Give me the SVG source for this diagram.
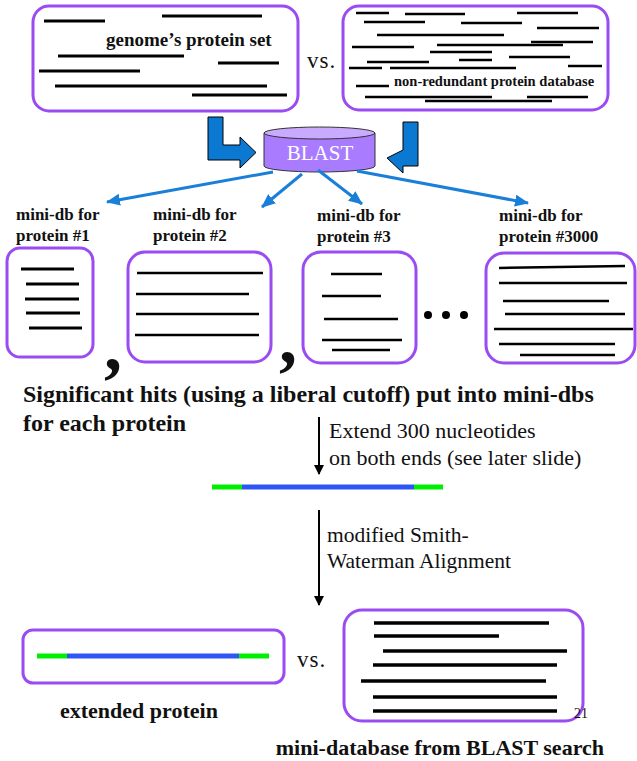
<svg xmlns="http://www.w3.org/2000/svg" width="637" height="761" viewBox="0 0 637 761" font-family="Liberation Serif, Times New Roman, serif">
<style>
.box{fill:#fff;stroke:#9a4cf2;stroke-width:3}
.ln{stroke:#000;stroke-width:3}
.ln2{stroke:#000;stroke-width:2.5}
.ln3{stroke:#000;stroke-width:3.5}
.bt{font-weight:bold;fill:#111}
.rt{fill:#111}
.fan{stroke:#1a7fd8;stroke-width:3;fill:none}
.blk{fill:#0b78d1;stroke:#000;stroke-width:1}
.dn{stroke:#000;stroke-width:2;fill:none}
</style>
<defs>
<marker id="ah" markerUnits="userSpaceOnUse" markerWidth="14" markerHeight="12" refX="13" refY="6" orient="auto">
<path d="M0,0 L14,6 L0,12 Z" fill="#1a7fd8"/>
</marker>
<marker id="dh" markerUnits="userSpaceOnUse" markerWidth="10" markerHeight="12" refX="9" refY="5" orient="auto">
<path d="M0,0 L10,5 L0,10 Z" fill="#000"/>
</marker>
</defs>

<g id="genome-set">
<rect class="box" x="33" y="6" width="265" height="105" rx="16"/>
<line class="ln" x1="44" y1="21" x2="105" y2="21"/>
<line class="ln" x1="162" y1="16" x2="262" y2="16"/>
<text class="bt" x="106" y="46" font-size="19" font-family="Liberation Serif, serif">genome’s protein set</text>
<line class="ln" x1="58" y1="56" x2="184" y2="56"/>
<line class="ln" x1="218" y1="63" x2="279" y2="63"/>
<line class="ln" x1="39" y1="71" x2="140" y2="71"/>
<line class="ln" x1="55" y1="86" x2="267" y2="86"/>
<line class="ln" x1="192" y1="95" x2="287" y2="95"/>
</g>

<text id="vs-top" class="rt" x="307" y="68" font-size="23" letter-spacing="1" font-family="Liberation Serif, serif">vs.</text>

<g id="nr-db">
<rect class="box" x="343" y="6" width="265" height="104" rx="16"/>
<g class="ln2">
<line x1="356" y1="13" x2="389" y2="13"/>
<line x1="405" y1="14" x2="465" y2="14"/>
<line x1="517" y1="13" x2="578" y2="13"/>
<line x1="364" y1="22" x2="425" y2="22"/>
<line x1="461" y1="23" x2="522" y2="23"/>
<line x1="537" y1="28" x2="599" y2="28"/>
<line x1="377" y1="35" x2="504" y2="35"/>
<line x1="352" y1="47" x2="414" y2="47"/>
<line x1="437" y1="45" x2="563" y2="45"/>
<line x1="531" y1="42" x2="593" y2="42"/>
<line x1="430" y1="52" x2="492" y2="52"/>
<line x1="367" y1="62" x2="429" y2="62"/>
<line x1="459" y1="60" x2="492" y2="60"/>
<line x1="509" y1="57" x2="570" y2="57"/>
<line x1="349" y1="68" x2="382" y2="68"/>
<line x1="390" y1="68" x2="516" y2="68"/>
<line x1="568" y1="66" x2="602" y2="66"/>
<line x1="356" y1="86" x2="389" y2="86"/>
<line x1="365" y1="97" x2="492" y2="97"/>
<line x1="527" y1="97" x2="588" y2="97"/>
<line x1="425" y1="101" x2="552" y2="101"/>
</g>
<text class="bt" x="394" y="86" font-size="14.5" font-family="Liberation Serif, serif">non-redundant protein database</text>
</g>

<g id="blast">
<path d="M264,133 L264,166 A55.5,6 0 0 0 375,166 L375,133 Z" fill="#a97cff" stroke="#333" stroke-width="1"/>
<ellipse cx="319.5" cy="133" rx="55.5" ry="6" fill="#c9aaff" stroke="#333" stroke-width="1"/>
<text x="320" y="160" font-size="21" text-anchor="middle" fill="#fff" font-family="Liberation Serif, serif">BLAST</text>
</g>

<g id="connectors">
<path class="blk" d="M208,117 L223,117 L223,145 L240,145 L240,137 L256,152.5 L240,168 L240,160 L208,160 Z"/>
<path class="blk" d="M418,122 L403,122 L403,150 L387,158 L403,173 L403,166 L418,166 Z"/>
<line class="fan" x1="273" y1="172" x2="107" y2="202" marker-end="url(#ah)"/>
<line class="fan" x1="302" y1="174" x2="262" y2="207" marker-end="url(#ah)"/>
<line class="fan" x1="318" y1="170" x2="362" y2="204" marker-end="url(#ah)"/>
<line class="fan" x1="357" y1="171" x2="528" y2="203" marker-end="url(#ah)"/>
<line class="dn" x1="319" y1="417" x2="319" y2="474" marker-end="url(#dh)"/>
<line class="dn" x1="319" y1="510" x2="319" y2="605" marker-end="url(#dh)"/>
</g>

<g id="minidb-1" font-family="Liberation Serif, serif">
<text class="bt" x="16" y="220" font-size="17">mini-db for</text>
<text class="bt" x="16" y="241" font-size="17">protein #1</text>
<rect class="box" x="7" y="248" width="86" height="109" rx="13"/>
<line class="ln" x1="21" y1="269" x2="74" y2="269"/>
<line class="ln" x1="26" y1="284" x2="79" y2="284"/>
<line class="ln" x1="25" y1="299" x2="79" y2="299"/>
<line class="ln" x1="26" y1="313" x2="80" y2="313"/>
<line class="ln" x1="29" y1="328" x2="82" y2="328"/>
</g>

<g id="minidb-2" font-family="Liberation Serif, serif">
<text class="bt" x="153" y="220" font-size="17">mini-db for</text>
<text class="bt" x="153" y="241" font-size="17">protein #2</text>
<rect class="box" x="128" y="252" width="143" height="110" rx="17"/>
<line class="ln2" x1="137" y1="273" x2="263" y2="273"/>
<line class="ln2" x1="136" y1="294" x2="249" y2="294"/>
<line class="ln2" x1="136" y1="314" x2="259" y2="314"/>
<line class="ln2" x1="135" y1="335" x2="259" y2="335"/>
</g>

<g id="minidb-3" font-family="Liberation Serif, serif">
<text class="bt" x="317" y="221" font-size="17">mini-db for</text>
<text class="bt" x="317" y="242" font-size="17">protein #3</text>
<rect class="box" x="303" y="252" width="113" height="111" rx="18"/>
<line class="ln2" x1="331" y1="274" x2="382" y2="274"/>
<line class="ln2" x1="322" y1="296" x2="381" y2="296"/>
<line class="ln2" x1="324" y1="319" x2="398" y2="319"/>
<line class="ln2" x1="322" y1="340" x2="402" y2="340"/>
<line class="ln2" x1="332" y1="350" x2="390" y2="350"/>
</g>

<g id="ellipsis">
<circle cx="428" cy="315" r="4" fill="#000"/>
<circle cx="446" cy="315" r="4" fill="#000"/>
<circle cx="464" cy="315" r="4" fill="#000"/>
</g>

<g id="minidb-3000" font-family="Liberation Serif, serif">
<text class="bt" x="499" y="221" font-size="17">mini-db for</text>
<text class="bt" x="499" y="242" font-size="17">protein #3000</text>
<rect class="box" x="486" y="253" width="149" height="110" rx="18"/>
<line class="ln2" x1="499" y1="268" x2="625" y2="266"/>
<line class="ln2" x1="499" y1="283" x2="627" y2="283"/>
<line class="ln2" x1="503" y1="301" x2="609" y2="301"/>
<line class="ln2" x1="505" y1="314" x2="625" y2="314"/>
<line class="ln2" x1="494" y1="329" x2="633" y2="329"/>
<line class="ln2" x1="499" y1="344" x2="615" y2="344"/>
<line class="ln2" x1="520" y1="355" x2="615" y2="355"/>
</g>

<g id="commas" font-family="Liberation Serif, serif">
<text class="bt" x="104" y="370" font-size="72">,</text>
<text class="bt" x="279" y="363" font-size="72">,</text>
</g>

<g id="caption" font-family="Liberation Serif, serif">
<text class="bt" x="23" y="402" font-size="24">Significant hits (using a liberal cutoff) put into mini-dbs</text>
<text class="bt" x="23" y="431" font-size="24">for each protein</text>
</g>

<g id="extend-label" font-family="Liberation Serif, serif">
<text class="rt" x="329" y="438" font-size="22">Extend 300 nucleotides</text>
<text class="rt" x="329" y="465" font-size="22">on both ends (see later slide)</text>
</g>

<g id="extended-bar">
<line x1="212" y1="487" x2="242" y2="487" stroke="#00ee00" stroke-width="5"/>
<line x1="242" y1="487" x2="414" y2="487" stroke="#3055f5" stroke-width="5"/>
<line x1="414" y1="487" x2="443" y2="487" stroke="#00ee00" stroke-width="5"/>
</g>

<g id="sw-label" font-family="Liberation Serif, serif">
<text class="rt" x="327" y="542" font-size="21.5">modified Smith-</text>
<text class="rt" x="327" y="568" font-size="21.5">Waterman Alignment</text>
</g>

<g id="extended-protein" font-family="Liberation Serif, serif">
<rect class="box" x="23" y="630" width="261" height="53" rx="10"/>
<line x1="37" y1="656" x2="67" y2="656" stroke="#00ee00" stroke-width="5"/>
<line x1="67" y1="656" x2="239" y2="656" stroke="#3055f5" stroke-width="5"/>
<line x1="239" y1="656" x2="269" y2="656" stroke="#00ee00" stroke-width="5"/>
<text class="bt" x="60" y="718" font-size="22">extended protein</text>
</g>

<text id="vs-bottom" class="rt" x="297" y="667" font-size="23" letter-spacing="1" font-family="Liberation Serif, serif">vs.</text>

<g id="mini-database" font-family="Liberation Serif, serif">
<rect class="box" x="344" y="610" width="239" height="111" rx="18"/>
<line class="ln3" x1="374" y1="623" x2="549" y2="623"/>
<line class="ln3" x1="374" y1="636" x2="499" y2="636"/>
<line class="ln3" x1="383" y1="651" x2="567" y2="651"/>
<line class="ln3" x1="373" y1="665" x2="557" y2="665"/>
<line class="ln3" x1="361" y1="681" x2="546" y2="681"/>
<line class="ln3" x1="373" y1="697" x2="557" y2="697"/>
<line class="ln3" x1="373" y1="711" x2="557" y2="711"/>
<text class="bt" x="604" y="755" font-size="22" text-anchor="end">mini-database from BLAST search</text>
</g>

<text id="page-num" class="rt" x="574" y="718" font-size="14" fill="#333" font-family="Liberation Serif, serif">21</text>
</svg>
